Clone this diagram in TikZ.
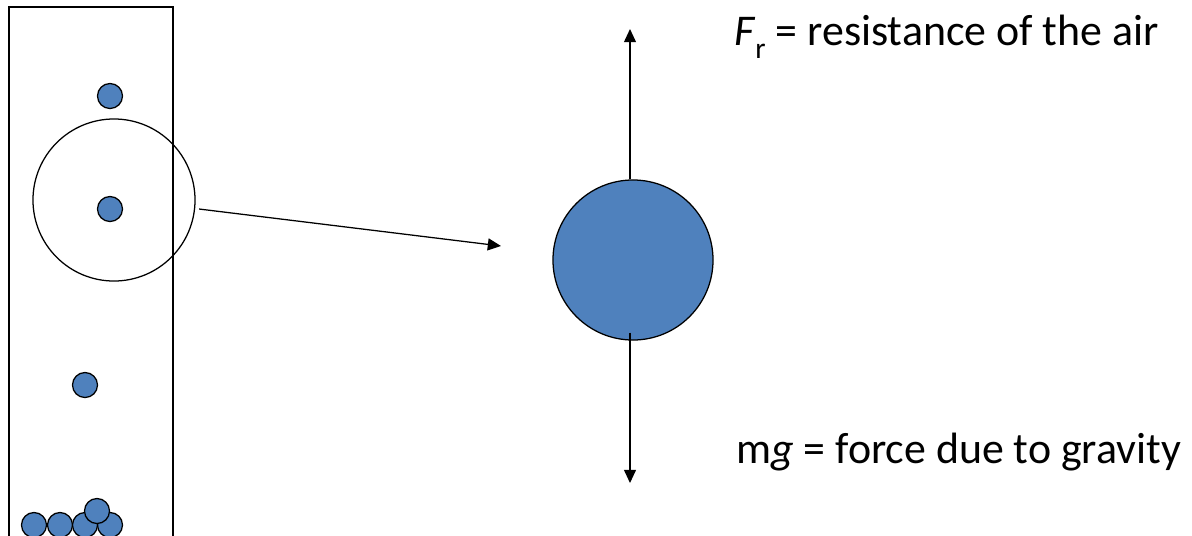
\documentclass[tikz,border=0pt]{standalone}
\usepackage{fontspec}
\setmainfont{Carlito}
\usepackage{tikz}
\usetikzlibrary{arrows.meta, calc}
\definecolor{dropblue}{RGB}{79,129,189}
\tikzset{
  drop/.style={circle, draw=black, fill=dropblue, line width=0.9pt,
    minimum size=0.625cm, inner sep=0pt},
  bigdrop/.style={drop, minimum size=4cm},
  lensring/.style={circle, draw=black, line width=0.9pt,
    minimum size=4.05cm, inner sep=0pt},
  force/.style={-{Triangle[length=0.33cm,width=0.3cm]}, line width=0.9pt},
  label/.style={anchor=base west, inner sep=0pt,
    font=\fontsize{31.2}{37}\selectfont}
}

\begin{document}
\begin{tikzpicture}[x=0.025cm, y=-0.025cm]
  \clip (0,0) rectangle (1192,535);

  % tube with falling drops
  \draw[line width=1pt] (9,545) -- (9,7) -- (173,7) -- (173,545);
  \node[drop] (d1) at (110,96) {};
  \node[drop] (d2) at (110,209) {};
  \node[drop] (d3) at (85,385) {};
  \node[drop] (b4) at (110,525) {};
  \node[drop] (b1) at (34,525) {};
  \node[drop] (b2) at (60,525) {};
  \node[drop] (b3) at (85,525) {};
  \node[drop] (b5) at (97,511) {};
  \node[lensring] (lens) at (114,200) {};

  % magnified drop
  \node[bigdrop] (disc) at (633,260) {};
  \coordinate (zoomend) at (501,246);
  \draw[force, shorten <=0.1cm] (lens.-6) -- (zoomend);

  \coordinate (uptip) at (630,29);
  \coordinate (downtip) at (630,483);
  \draw[force] (disc.north -| uptip) -- (uptip);
  \draw[force] ([yshift=0.2cm]disc.south -| downtip) -- (downtip);

  \node[label] (fr) at (734,45) {\textit{F}\raisebox{-0.3em}{\fontsize{21}{24}\selectfont r} = resistance of the air};
  \node[label] (mg) at (736,463) {m\textit{g} = force due to gravity};
\end{tikzpicture}
\end{document}
